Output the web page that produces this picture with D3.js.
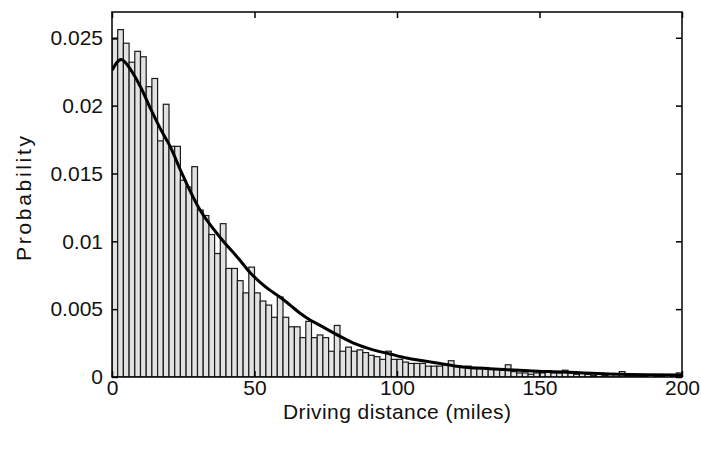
<!DOCTYPE html>
<html>
<head>
<meta charset="utf-8">
<script src="https://cdn.jsdelivr.net/npm/d3@7"></script>
<style>
  html, body { margin: 0; padding: 0; background: #fff; }
  svg { display: block; }
  text { font-family: "Liberation Sans", Arial, sans-serif; fill: #111; }
</style>
</head>
<body>
<svg id="chart" width="701" height="450"></svg>
<script>
// ---- data ----
const binCenters = [1,3,5,7,9,11,13,15,17,19,21,23,25,27,29,31,33,35,37,39,
  41,43,45,47,49,51,53,55,57,59,61,63,65,67,69,71,73,75,77,79,
  81,83,85,87,89,91,93,95,97,99,101,103,105,107,109,111,113,115,117,119,
  121,123,125,127,129,131,133,135,137,139,141,143,145,147,149,151,153,155,157,159,
  161,163,165,167,169,171,173,175,177,179,181,183,185,187,189,191,193,195,197,199];

const probability = [
  0.0249,0.0256,0.0246,0.0232,0.0240,0.0236,0.0214,0.0220,0.0174,0.0201,
  0.0170,0.0170,0.0145,0.0140,0.0155,0.0123,0.0119,0.0105,0.0091,0.0113,
  0.0080,0.0080,0.0071,0.0062,0.0081,0.0062,0.0056,0.0053,0.0044,0.0059,
  0.0044,0.0037,0.0037,0.0029,0.0041,0.0029,0.0031,0.0029,0.0019,0.0038,
  0.0019,0.0022,0.0019,0.0020,0.0018,0.0016,0.0015,0.0013,0.0019,0.0013,
  0.0013,0.0011,0.0010,0.0010,0.0010,0.0008,0.0008,0.0008,0.0009,0.0012,
  0.0008,0.0007,0.0008,0.0007,0.0007,0.0007,0.0006,0.0006,0.0005,0.0009,
  0.0004,0.0003,0.0003,0.0002,0.0003,0.0003,0.0004,0.0003,0.0003,0.0005,
  0.0003,0.0002,0.0003,0.0002,0.0001,0.0002,0.0001,0.0002,0.0002,0.0004,
  0.0001,0.0001,0.0001,0.0001,0.0000,0.0001,0.0001,0.0000,0.0001,0.0003];

const curveMiles = [0,3.2,6.7,10.2,13.7,17.2,20.4,23.9,30.9,37.9,44.9,48.4,51.9,55.4,58.9,62.5,66.0,69.5,73.0,80.0,85.9,91.6,97.5,103.4,109.1,115.1,120.9,132.6,153.7,178,200];
const curveProb  = [0.0226,0.0234,0.0226,0.0213,0.0197,0.0182,0.0170,0.0153,0.0123,0.0103,0.0086,0.0077,0.0070,0.0064,0.0059,0.0053,0.0047,0.0042,0.0038,0.0030,0.0024,0.0020,0.0017,0.0014,0.0012,0.0010,0.0008,0.0006,0.0004,0.0002,0.00015];

const xTicks = [0, 50, 100, 150, 200];
const yTicks = [0, 0.005, 0.01, 0.015, 0.02, 0.025];
const yTickLabels = ["0", "0.005", "0.01", "0.015", "0.02", "0.025"];
const xTitle = "Driving distance (miles)";
const yTitle = "Probability";

// ---- layout ----
const L = 112, R = 682, T = 12, B = 377;
const svg = d3.select("#chart");
const x = d3.scaleLinear().domain([0, 200]).range([L, R]);
const y = d3.scaleLinear().domain([0, 0.0269]).range([B, T]);
const binW = binCenters[1] - binCenters[0];

svg.append("defs").append("clipPath").attr("id", "clip")
  .append("rect").attr("x", L).attr("y", T).attr("width", R - L).attr("height", B - T);

const plot = svg.append("g").attr("clip-path", "url(#clip)");

plot.selectAll("rect.bar")
  .data(binCenters.map((c, i) => ({ c, p: probability[i] })))
  .join("rect")
  .attr("class", "bar")
  .attr("x", d => x(d.c - binW / 2))
  .attr("width", d => x(d.c + binW / 2) - x(d.c - binW / 2))
  .attr("y", d => y(d.p))
  .attr("height", d => B - y(d.p))
  .attr("fill", "#e2e2e2")
  .attr("stroke", "#1a1a1a")
  .attr("stroke-width", 1.2);

const line = d3.line()
  .x(d => x(d[0])).y(d => y(d[1]))
  .curve(d3.curveMonotoneX);
plot.append("path")
  .datum(curveMiles.map((m, i) => [m, curveProb[i]]))
  .attr("d", line)
  .attr("fill", "none")
  .attr("stroke", "#000")
  .attr("stroke-width", 3);

// ---- axes ----
const tickLen = 6;
const axX = svg.append("g").attr("transform", `translate(0,${B})`)
  .call(d3.axisBottom(x).tickValues(xTicks).tickSize(-tickLen).tickPadding(2).tickFormat(d3.format("d")));
const axXt = svg.append("g").attr("transform", `translate(0,${T})`)
  .call(d3.axisTop(x).tickValues(xTicks).tickSize(-tickLen).tickFormat(""));
const axY = svg.append("g").attr("transform", `translate(${L},0)`)
  .call(d3.axisLeft(y).tickValues(yTicks).tickSize(-tickLen).tickPadding(9).tickFormat((d, i) => yTickLabels[i]));
const axYr = svg.append("g").attr("transform", `translate(${R},0)`)
  .call(d3.axisRight(y).tickValues(yTicks).tickSize(-tickLen).tickFormat(""));

[axX, axXt, axY, axYr].forEach(a => {
  a.select(".domain").remove();
  a.selectAll(".tick line").attr("stroke", "#000").attr("stroke-width", 1.5);
  a.selectAll("text").style("font-size", "21px").attr("fill", "#111");
});
axX.selectAll(".tick text").attr("dy", "0.78em");

svg.append("rect")
  .attr("x", L).attr("y", T).attr("width", R - L).attr("height", B - T)
  .attr("fill", "none").attr("stroke", "#000").attr("stroke-width", 1.5);

svg.append("text")
  .attr("x", (L + R) / 2).attr("y", 419)
  .attr("text-anchor", "middle")
  .attr("textLength", 228).attr("lengthAdjust", "spacing")
  .style("font-size", "21px")
  .text(xTitle);

svg.append("text")
  .attr("transform", `translate(31,${(T + B) / 2 + 4}) rotate(-90)`)
  .attr("text-anchor", "middle")
  .attr("textLength", 125).attr("lengthAdjust", "spacing")
  .style("font-size", "21px")
  .text(yTitle);
</script>
</body>
</html>
